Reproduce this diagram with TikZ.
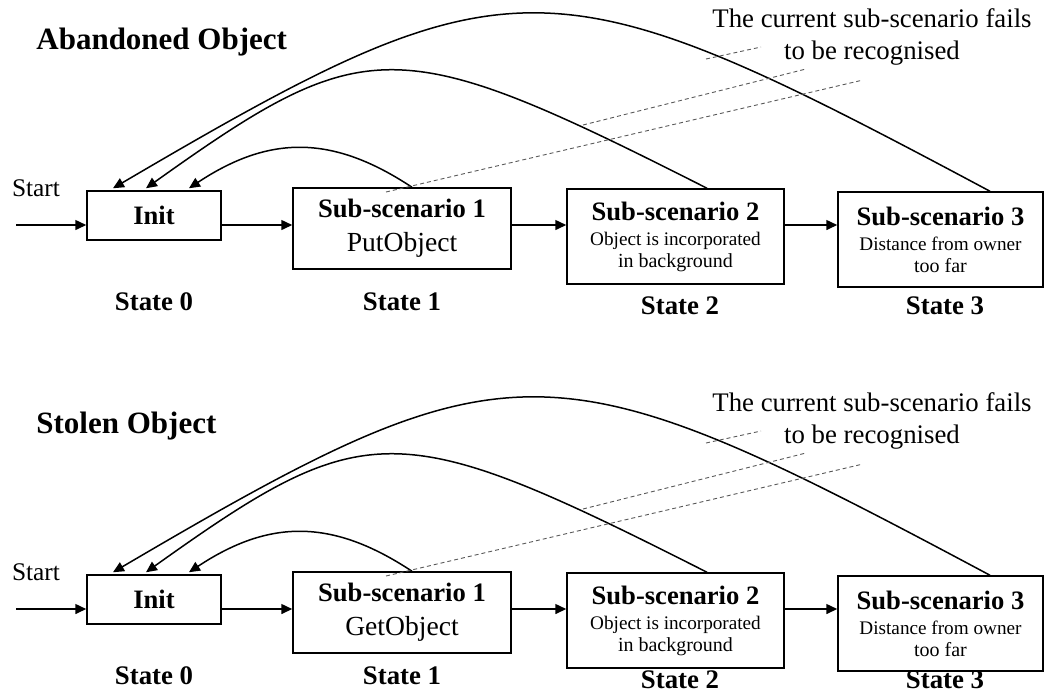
\documentclass[tikz,border=0pt]{standalone}
\usepackage{fontspec}
\setmainfont{Liberation Serif}
\usetikzlibrary{arrows.meta}

\newcommand{\headfont}{\fontsize{13.3}{12}\selectfont\bfseries}
\newcommand{\actfont}{\fontsize{13.8}{12}\selectfont}
\newcommand{\smallfont}{\fontsize{9.6}{12}\selectfont}

\tikzset{
  box/.style={draw, line width=0.75pt, inner sep=0pt, align=center, font=\fontsize{10}{12}\selectfont},
  arr/.style={-{Triangle[length=5.5pt,width=5pt]}, line width=0.75pt},
  pointer/.style={gray!70!black, line width=0.45pt, dash pattern=on 2pt off 1.5pt},
  heading/.style={anchor=west, inner sep=0pt, font=\fontsize{15.5}{18}\selectfont\bfseries},
  statelabel/.style={font=\fontsize{13.4}{16}\selectfont\bfseries},
  plain/.style={font=\fontsize{12.7}{15}\selectfont},
  note/.style={align=center, font=\fontsize{13.4}{16}\selectfont}
}

% one recognition chain: prefix, row offset, title, sub-scenario 1 action, state label row
\newcommand{\drawscenario}[5]{%
  \begin{scope}[shift={(0,#2)}]
    \node[heading] (#1title) at (36,42) {#3};
    \node[plain] (#1start) at (36,188) {Start};
    \node[box, minimum width=67pt, minimum height=24.5pt] (#1init) at (154,215.5) {\headfont Init};
    \node[box, minimum width=109pt, minimum height=40.5pt] (#1s1) at (402,228.5)
      {\headfont Sub-scenario 1\\[5pt] \actfont #4};
    \node[box, minimum width=108.5pt, minimum height=47.5pt] (#1s2) at (675.5,236.5)
      {\headfont Sub-scenario 2\\[0.5pt] \smallfont Object is incorporated\\[-1pt] in background};
    \node[box, minimum width=102.5pt, minimum height=47.5pt] (#1s3) at (940.5,239.5)
      {\headfont Sub-scenario 3\\[0.5pt] \smallfont Distance from owner\\[-1pt] too far};
    \node[statelabel] (#1st0) at (154,#5) {State 0};
    \node[statelabel] (#1st1) at (402,#5) {State 1};
    \node[statelabel] (#1st2) at (680,#5+4) {State 2};
    \node[statelabel] (#1st3) at (945,#5+4) {State 3};
    % forward transitions
    \coordinate (#1in) at (16,225);
    \draw[arr] (#1in) -- (#1init.west |- #1in);
    \draw[arr] (#1init.east |- #1in) -- (#1s1.west |- #1in);
    \draw[arr] (#1s1.east |- #1in) -- (#1s2.west |- #1in);
    \draw[arr] (#1s2.east |- #1in) -- (#1s3.west |- #1in);
    % back to Init on failure
    \draw[arr] ([xshift=5pt]#1s1.north) .. controls +(-80,-53) and +(80,-53) .. ([xshift=17.5pt,yshift=1pt]#1init.north);
    \draw[arr] ([xshift=15.75pt]#1s2.north) .. controls +(-310,-157) and +(220,-157) .. ([xshift=-4pt,yshift=1pt]#1init.north);
    \draw[arr] ([xshift=24.75pt]#1s3.north) .. controls +(-440,-235) and +(400,-235) .. ([xshift=-20.5pt,yshift=1pt]#1init.north);
    % annotation
    \node[note] (#1note) at (872,37) {The current sub-scenario fails\\to be recognised};
    \coordinate (#1a1) at (706,59);  \coordinate (#1b1) at (761,47);
    \coordinate (#1a2) at (583,125); \coordinate (#1b2) at (806,69);
    \coordinate (#1a3) at (386,192); \coordinate (#1b3) at (863,80);
    \foreach \k in {1,2,3} \draw[pointer] (#1a\k) -- (#1b\k);
  \end{scope}}

\begin{document}
\begin{tikzpicture}[x=0.5pt, y=-0.5pt]
    \useasboundingbox (0,0) rectangle (1044,693);

    \drawscenario{a}{0}{Abandoned Object}{PutObject}{302}
    \drawscenario{b}{384}{Stolen Object}{GetObject}{292}
\end{tikzpicture}
\end{document}
